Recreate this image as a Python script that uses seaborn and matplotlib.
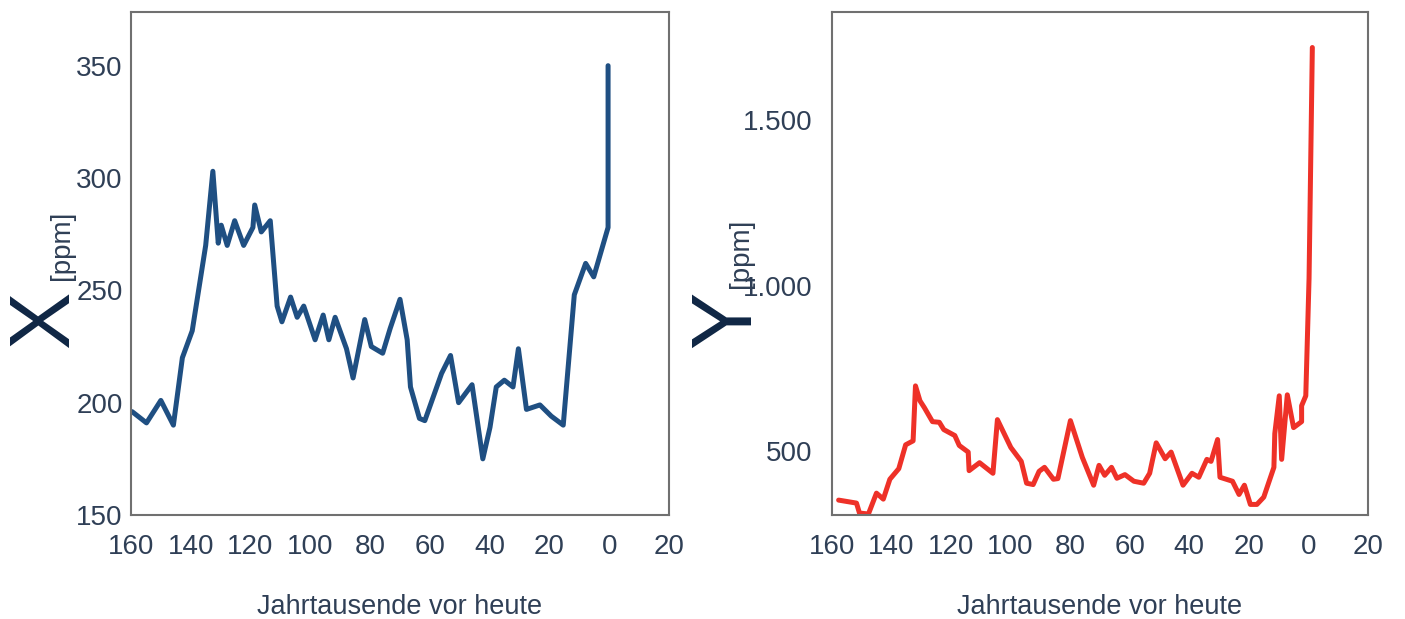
import numpy as np
import pandas as pd
import matplotlib.pyplot as plt
import seaborn as sns
from matplotlib.ticker import FuncFormatter

# CO2 (left panel): thousands of years before today / ppm
co2Years = [159.6, 154.8, 150.0, 145.8, 142.8, 139.5, 135.0, 132.6, 130.8, 129.8,
            127.8, 125.3, 122.3, 119.2, 118.6, 116.4, 113.4, 111.1, 109.5, 106.6,
            104.4, 102.2, 98.4, 95.7, 93.8, 91.7, 87.9, 85.7, 81.8, 79.6,
            75.8, 73.3, 70.0, 67.6, 66.5, 63.5, 61.7, 56.1, 53.1, 50.4,
            45.9, 42.3, 39.9, 37.8, 35.1, 32.2, 30.4, 27.7, 23.2, 19.4,
            15.4, 11.7, 7.9, 5.2, 0.4, 0.4]
co2Values = [196, 191, 201, 190, 220, 232, 270, 303, 271, 279,
             270, 281, 270, 278, 288, 276, 281, 243, 236, 247,
             238, 243, 228, 239, 228, 238, 224, 211, 237, 225,
             222, 233, 246, 228, 207, 193, 192, 213, 221, 200,
             208, 175, 189, 207, 210, 207, 224, 197, 199, 194,
             190, 248, 262, 256, 278, 350]

# CH4 (right panel)
ch4Years = [157.7, 151.7, 150.7, 147.7, 145.0, 142.7, 140.5, 137.5, 135.2, 132.7,
            131.9, 130.4, 128.9, 126.2, 123.9, 122.4, 118.7, 117.2, 114.2, 113.9,
            110.4, 105.9, 104.4, 99.9, 96.4, 94.6, 92.4, 90.4, 88.6, 85.6,
            84.1, 79.9, 75.9, 72.1, 70.3, 68.4, 66.1, 64.3, 61.6, 58.6,
            55.3, 53.3, 51.1, 48.1, 46.1, 42.1, 39.1, 36.8, 34.1, 32.7,
            30.5, 29.7, 25.5, 23.3, 21.5, 19.5, 17.3, 15.0, 11.6, 11.3,
            9.8, 9.0, 7.1, 5.0, 2.3, 2.3, 0.9, -0.2, -1.3]
ch4Values = [353, 344, 314, 311, 374, 356, 416, 448, 520, 532,
             698, 653, 632, 590, 588, 566, 548, 518, 498, 442,
             466, 434, 596, 512, 470, 404, 400, 440, 452, 416,
             418, 593, 482, 398, 458, 428, 452, 419, 430, 410,
             404, 434, 526, 478, 498, 398, 434, 422, 476, 470,
             536, 422, 410, 370, 398, 340, 340, 362, 452, 554,
             668, 476, 671, 572, 590, 638, 668, 1023, 1720]

xTicks = [160, 140, 120, 100, 80, 60, 40, 20, 0, -20]
co2Ticks = [150, 200, 250, 300, 350]
ch4Ticks = [500, 1000, 1500]

dfCo2 = pd.DataFrame({"Jahr": co2Years, "Wert": co2Values})
dfCh4 = pd.DataFrame({"Jahr": ch4Years, "Wert": ch4Values})

sns.set_style("white")
plt.rcParams["font.family"] = ["Liberation Sans", "DejaVu Sans"]

textColor = "#2f3f56"
fig = plt.figure(figsize=(14.05, 6.19), dpi=100)
axLeft = fig.add_axes([0.0932, 0.168, 0.383, 0.813])
axRight = fig.add_axes([0.592, 0.168, 0.3817, 0.813])

sns.lineplot(data=dfCo2, x="Jahr", y="Wert", ax=axLeft, sort=False,
             estimator=None, color="#1f4f82", linewidth=3.6)
sns.lineplot(data=dfCh4, x="Jahr", y="Wert", ax=axRight, sort=False,
             estimator=None, color="#ee3128", linewidth=3.6)

axLeft.set_ylim(150, 374)
axRight.set_ylim(308, 1828)
axLeft.set_yticks(co2Ticks)
axRight.set_yticks(ch4Ticks)
axRight.yaxis.set_major_formatter(
    FuncFormatter(lambda v, p: f"{int(v):,}".replace(",", ".")))

for ax, ypad in [(axLeft, 6), (axRight, 14)]:
    ax.set_xlim(160, -20)
    ax.set_xticks(xTicks)
    ax.xaxis.set_major_formatter(FuncFormatter(lambda v, p: f"{abs(int(v))}"))
    ax.set_xticks([0], minor=True)
    ax.tick_params(axis="x", which="major", length=0, pad=14,
                   labelsize=20, labelcolor=textColor)
    ax.tick_params(axis="x", which="minor", length=7, width=1.5,
                   color="#9a7fd6", direction="out")
    ax.tick_params(axis="y", length=0, pad=ypad, labelsize=20,
                   labelcolor=textColor)
    for s in ax.spines.values():
        s.set_color("#707070")
        s.set_linewidth(1.5)
    ax.set_xlabel("Jahrtausende vor heute", fontsize=19.5, color=textColor,
                  labelpad=24)
    ax.set_ylabel("")

# big rotated axis letters with unit
axLeft.text(-0.158, 0.388, "X", transform=axLeft.transAxes, rotation=90,
            fontsize=62, color="#0f2644", ha="center", va="center")
axLeft.text(-0.128, 0.535, "[ppm]", transform=axLeft.transAxes, rotation=90,
            fontsize=20, color=textColor, ha="center", va="center")
axRight.text(-0.194, 0.388, "Y", transform=axRight.transAxes, rotation=90,
             fontsize=62, color="#0f2644", ha="center", va="center")
axRight.text(-0.170, 0.52, "[ppm]", transform=axRight.transAxes, rotation=90,
             fontsize=20, color=textColor, ha="center", va="center")

plt.savefig("out.png", dpi=100)
